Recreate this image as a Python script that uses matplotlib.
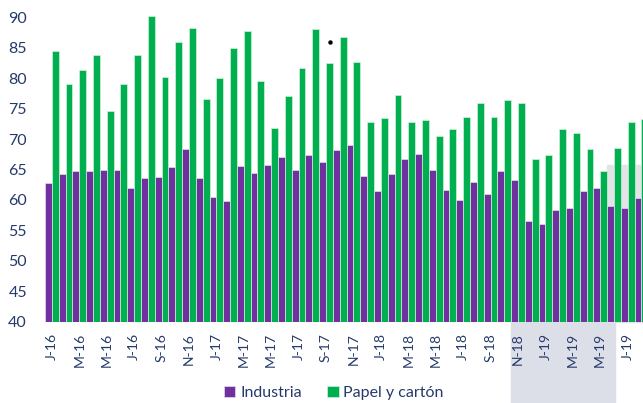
import matplotlib.pyplot as plt
import matplotlib.patches as mpatches
from matplotlib.lines import Line2D
import numpy as np

plt.rcParams['font.family'] = ['Lato', 'DejaVu Sans']

# monthly data Jan-16 .. Aug-19
labels = ['J-16', 'M-16', 'M-16', 'J-16', 'S-16', 'N-16',
          'J-17', 'M-17', 'M-17', 'J-17', 'S-17', 'N-17',
          'J-18', 'M-18', 'M-18', 'J-18', 'S-18', 'N-18',
          'J-19', 'M-19', 'M-19', 'J-19']

industria = [62.8, 64.2, 64.7, 64.7, 64.9, 64.9, 61.9, 63.6, 63.8, 65.4, 68.3, 63.6,
             60.5, 59.9, 65.6, 64.4, 65.7, 67.1, 65.0, 67.3, 66.2, 68.2, 69.1, 63.9,
             61.5, 64.3, 66.7, 67.5, 65.0, 61.7, 60.0, 62.9, 61.0, 64.7, 63.2, 56.5,
             56.1, 58.4, 58.7, 61.5, 61.9, 59.0, 58.6, 60.4]
papel = [84.4, 79.0, 81.4, 83.8, 74.6, 79.0, 83.8, 90.2, 80.2, 86.0, 88.2, 76.6,
         80.0, 85.0, 87.7, 79.6, 71.8, 77.0, 81.6, 88.0, 82.5, 86.8, 82.7, 72.8,
         73.5, 77.2, 72.8, 73.1, 70.5, 71.7, 73.7, 76.0, 73.7, 76.4, 76.0, 66.7,
         67.3, 71.7, 71.0, 68.3, 64.7, 68.6, 72.8, 73.3]

purple = '#7030a0'
green = '#00b050'
txt = '#253a6b'

fig = plt.figure(figsize=(6.43, 4.03), dpi=100)

# light grey overlay patches seen in the screenshot (behind the axes)
fig.patches.append(mpatches.Rectangle((511/643, 0), 104/643, 81/403,
                                      transform=fig.transFigure, color='#dcdee8', zorder=-1))
fig.patches.append(mpatches.Rectangle((607/643, 81/403), 36/643, 157/403,
                                      transform=fig.transFigure, color='#e4e4e8', zorder=-1))

ax = fig.add_axes([45/643, 81.3/403, 598/643, 51*6.088/403])
ax.set_zorder(1)
ax.patch.set_alpha(0)

x = np.arange(len(industria))
ax.bar(x - 0.25, industria, width=0.5, color=purple, edgecolor='#e2dcea', linewidth=0.5,
       label='Industria', zorder=2)
ax.bar(x + 0.25, papel, width=0.5, color=green, edgecolor='#d4f0dc', linewidth=0.5,
       label='Papel y cartón', zorder=2)

ax.set_ylim(40, 91)
ax.set_xlim(-0.5, 43.12)
ax.set_yticks(range(40, 91, 5))
ax.set_xticks(x[::2])
ax.set_xticklabels(labels, rotation=90)
ax.tick_params(axis='y', length=0, pad=13, labelsize=11.5, labelcolor=txt)
ax.tick_params(axis='x', length=0, pad=8, labelsize=10, labelcolor=txt)
for s in ax.spines.values():
    s.set_visible(False)

fig.legend(loc='center', bbox_to_anchor=(334/643, 10/403), ncol=2, frameon=False,
           fontsize=11.5, labelcolor=txt, handlelength=0.7, handleheight=0.7,
           handletextpad=0.3, columnspacing=1.6)

# small dot artifact
fig.add_artist(Line2D([330/643], [1 - 42/403], marker='o', markersize=2.2,
                      color='black', transform=fig.transFigure))

fig.savefig('out.png', dpi=100)
